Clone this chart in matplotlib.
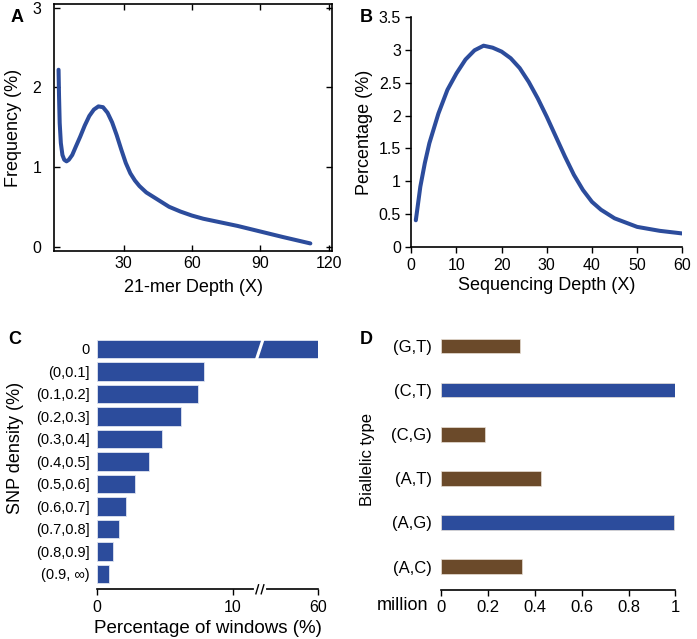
import numpy as np
import matplotlib
matplotlib.use("Agg")
import matplotlib.pyplot as plt
import matplotlib.transforms as mtransforms
from matplotlib import font_manager

plt.rcParams['font.family'] = ['Liberation Sans', 'DejaVu Sans']

# narrow face for the condensed labels, if present
names = {f.name for f in font_manager.fontManager.ttflist}
narrow = 'Liberation Sans Narrow' if 'Liberation Sans Narrow' in names else None

# ---- data ----
# A: 21-mer depth distribution
kmer_depth = [1.5, 1.7, 2.0, 2.5, 3.2, 4.0, 5.0, 6.0, 7.5, 9, 11, 13, 15, 17, 19, 21, 23, 25, 27,
              29, 31, 33, 35, 37, 40, 45, 50, 55, 60, 65, 70, 80, 90, 100, 112]
kmer_freq = [2.22, 1.9, 1.55, 1.3, 1.15, 1.09, 1.07, 1.09, 1.15, 1.25, 1.38, 1.52, 1.64, 1.72, 1.76,
             1.75, 1.68, 1.56, 1.4, 1.22, 1.05, 0.92, 0.83, 0.76, 0.68, 0.59, 0.5, 0.44, 0.39, 0.35,
             0.32, 0.26, 0.19, 0.12, 0.04]

# B: sequencing depth distribution
seq_depth = [1, 2, 3, 4, 6, 8, 10, 12, 14, 16, 18, 20, 22, 24, 26, 28, 30, 32, 34, 36, 38, 40, 42,
             45, 50, 55, 60]
seq_pct = [0.41, 0.92, 1.28, 1.58, 2.03, 2.39, 2.64, 2.85, 2.99, 3.06, 3.03, 2.97, 2.87, 2.72, 2.51,
           2.26, 1.98, 1.68, 1.38, 1.10, 0.87, 0.69, 0.57, 0.44, 0.31, 0.25, 0.21]

# C: SNP density
snp_bins = ['0', '(0,0.1]', '(0.1,0.2]', '(0.2,0.3]', '(0.3,0.4]', '(0.4,0.5]', '(0.5,0.6]',
            '(0.6,0.7]', '(0.7,0.8]', '(0.8,0.9]', '(0.9, \u221e)']
snp_windows = [60, 7.9, 7.45, 6.2, 4.83, 3.85, 2.84, 2.16, 1.62, 1.2, 0.93]

# D: biallelic types (bottom to top)
bi_types = ['(A,C)', '(A,G)', '(A,T)', '(C,G)', '(C,T)', '(G,T)']
bi_counts = [0.343, 0.994, 0.427, 0.188, 1.0, 0.338]
bi_transition = [False, True, False, False, True, False]

blue = '#2c4c9c'
brown = '#6b4a2a'

W, H = 697, 639
fig = plt.figure(figsize=(W / 100, H / 100), dpi=100)


def px_axes(left, top, right, bottom):
    # axes from pixel box (top-origin)
    return fig.add_axes([left / W, (H - bottom) / H, (right - left) / W, (bottom - top) / H])


tick_fs = 11.5
lab_fs = 13

# ---- A ----
axA = px_axes(54, 4, 332, 251)
axA.plot(kmer_depth, kmer_freq, color=blue, lw=2.9, solid_capstyle='round')
axA.set_xlim(-0.5, 121.5)
axA.set_ylim(-0.055, 3.045)
axA.set_xticks([30, 60, 90, 120])
axA.set_yticks([0, 1, 2, 3])
axA.tick_params(direction='in', top=True, right=True, labelsize=tick_fs, length=4, width=1)
axA.tick_params(axis='y', pad=9)
axA.set_xlabel('21-mer Depth (X)', fontsize=lab_fs, labelpad=6)
axA.set_ylabel('Frequency (%)', fontsize=lab_fs, labelpad=8)
for s in axA.spines.values():
    s.set_linewidth(1.2)

# ---- B ----
axB = px_axes(411.3, 16.7, 682.3, 247.3)
axB.plot(seq_depth, seq_pct, color=blue, lw=2.9, solid_capstyle='round')
axB.set_xlim(0, 60)
axB.set_ylim(0, 3.5)
axB.set_xticks(np.arange(0, 61, 10))
axB.set_yticks(np.arange(0, 3.51, 0.5))
axB.set_yticklabels(['0', '0.5', '1', '1.5', '2', '2.5', '3', '3.5'])
axB.spines[['top', 'right']].set_visible(False)
axB.tick_params(direction='out', labelsize=tick_fs, length=4, width=1)
axB.set_xlabel('Sequencing Depth (X)', fontsize=lab_fs, labelpad=3)
axB.set_ylabel('Percentage (%)', fontsize=lab_fs, labelpad=4)
for s in axB.spines.values():
    s.set_linewidth(1.2)

# ---- C (broken x axis) ----
brk = 12.0
k = 0.0895


def fwd(x):
    x = np.asarray(x, dtype=float)
    return np.where(x <= brk, x, brk + (x - brk) * k)


def inv(y):
    y = np.asarray(y, dtype=float)
    return np.where(y <= brk, y, brk + (y - brk) / k)


axC = px_axes(96.7, 339.3, 318.3, 589.3)
axC.set_xscale('function', functions=(fwd, inv))
ypos = np.arange(len(snp_bins))
axC.barh(ypos, snp_windows, height=0.82, color=blue, edgecolor='#dfe4f0', linewidth=0.6)
axC.set_xlim(0, 60)
axC.set_ylim(10.69, -0.43)
axC.set_yticks(ypos)
if narrow:
    axC.set_yticklabels(snp_bins, fontsize=12.5, family=[narrow, 'DejaVu Sans'])
else:
    axC.set_yticklabels(snp_bins, fontsize=10.5)
axC.set_xticks([0, 10, 60])
axC.set_xticklabels(['0', '10', '60'], fontsize=tick_fs)
axC.xaxis.set_minor_locator(matplotlib.ticker.NullLocator())
axC.spines[['top', 'right', 'left']].set_visible(False)
axC.spines['bottom'].set_linewidth(1.2)
axC.tick_params(axis='y', length=0, pad=5)
axC.tick_params(axis='x', direction='out', length=4, width=1)
axC.set_xlabel('Percentage of windows (%)', fontsize=13.5, labelpad=4)
axC.set_ylabel('SNP density (%)', fontsize=lab_fs)
axC.yaxis.set_label_coords(-0.33, 0.565)

bx = fwd(brk) / fwd(60.0)
# white slash through the top bar
trC = mtransforms.blended_transform_factory(axC.transAxes, axC.transData)
axC.plot([bx - 0.015, bx + 0.015], [0.45, -0.45], color='white', lw=2.2, transform=trC, zorder=5)
# gap in the axis line with two slashes
axC.plot([bx - 0.019, bx + 0.019], [0, 0], color='white', lw=3, transform=axC.transAxes,
         clip_on=False, zorder=5)
for dx in (-0.012, 0.012):
    axC.plot([bx + dx - 0.006, bx + dx + 0.006], [-0.018, 0.018], color='black', lw=1,
             transform=axC.transAxes, clip_on=False, zorder=6)

# ---- D ----
axD = px_axes(441.3, 330, 675.3, 590)
ydpos = np.arange(len(bi_types))
cols = [blue if t else brown for t in bi_transition]
axD.barh(ydpos, bi_counts, height=0.333, color=cols, edgecolor='#e8e0d6', linewidth=0.5)
axD.set_xlim(0, 1)
axD.set_ylim(-0.53, 5.36)
axD.set_yticks(ydpos)
axD.set_yticklabels(bi_types, fontsize=12)
axD.set_xticks(np.arange(0, 1.01, 0.2))
axD.set_xticklabels(['0', '0.2', '0.4', '0.6', '0.8', '1'], fontsize=12)
axD.spines[['top', 'right', 'left']].set_visible(False)
axD.spines['bottom'].set_linewidth(1.2)
axD.tick_params(axis='y', length=0, pad=7)
axD.tick_params(axis='x', direction='out', length=4, width=1)
if narrow:
    axD.set_ylabel('Biallelic type', fontsize=13, family=narrow)
else:
    axD.set_ylabel('Biallelic type', fontsize=12)
axD.yaxis.set_label_coords(-0.285, 0.5)
fig.text(403 / W, 1 - 606 / H, 'million', fontsize=13, ha='center', va='center')

# panel letters
for lab, x, y in [('A', 17, 17), ('B', 366, 17), ('C', 15, 340), ('D', 366, 340)]:
    fig.text(x / W, 1 - y / H, lab, fontsize=13, fontweight='bold', ha='center', va='center')

fig.savefig('out.png', dpi=100)
